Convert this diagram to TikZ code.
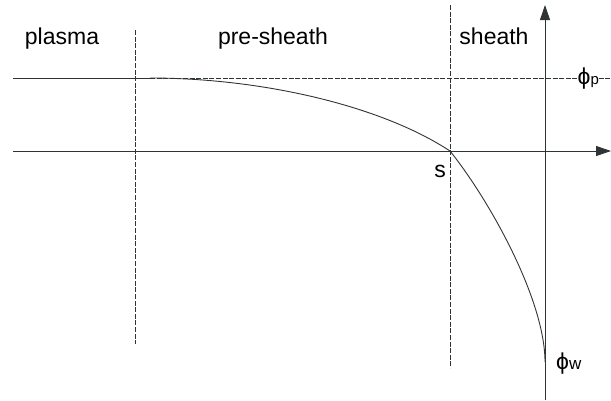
\documentclass[tikz,border=0pt]{standalone}
\usepackage{fontspec}
\setmainfont{Liberation Sans}
\usetikzlibrary{arrows.meta}
\definecolor{ink}{HTML}{2E3436}
\begin{document}
\begin{tikzpicture}[x=1pt,y=-1pt,
  lbl/.style={font=\fontsize{23}{27}\selectfont, inner sep=1pt},
  thinline/.style={draw=ink, line width=0.9pt},
  dline/.style={draw=ink, line width=0.9pt, dash pattern=on 5pt off 1.6pt},
  axis/.style={draw=ink, line width=0.9pt, -{Triangle[length=15pt,width=10pt]}}]
\useasboundingbox (0,0) rectangle (611,400);
% coordinates
\coordinate (pl) at (13,78);
\coordinate (c0) at (150,78);
\coordinate (pr) at (610,78);
\coordinate (xl) at (13,151);
\coordinate (xr) at (611,151);
\coordinate (yb) at (545,400);
\coordinate (yt) at (545,5);
\coordinate (d1t) at (135,30);
\coordinate (d1b) at (135,344);
\coordinate (d2t) at (450,5);
\coordinate (d2b) at (450,368);
\coordinate (s) at (450,151);
\coordinate (w) at (545,362);
% lines
\draw[thinline] (pl) -- (c0);
\draw[dline] (c0) -- (pr);
\draw[dline] (d1t) -- (d1b);
\draw[dline] (d2t) -- (d2b);
\draw[axis] (xl) -- (xr);
\draw[axis] (yb) -- (yt);
% potential curve
\draw[thinline] (c0) .. controls (260,78) and (380,105) .. (s)
  .. controls (490,201) and (545,300) .. (w);
% labels
\node[lbl, anchor=base] (plasma) at (62,44) {plasma};
\node[lbl, anchor=base] (presheath) at (273,44) {pre-sheath};
\node[lbl, anchor=base] (sheath) at (494,44) {sheath};
\node[lbl, fill=white, anchor=base west, inner sep=0.5pt] (phip) at (577,84) {ϕ{\fontsize{15}{15}\selectfont p}};
\node[lbl, anchor=base] (slbl) at (440,177) {s};
\node[lbl, anchor=base west] (phiw) at (555,369) {ϕ{\fontsize{17}{17}\selectfont w}};
\end{tikzpicture}
\end{document}
